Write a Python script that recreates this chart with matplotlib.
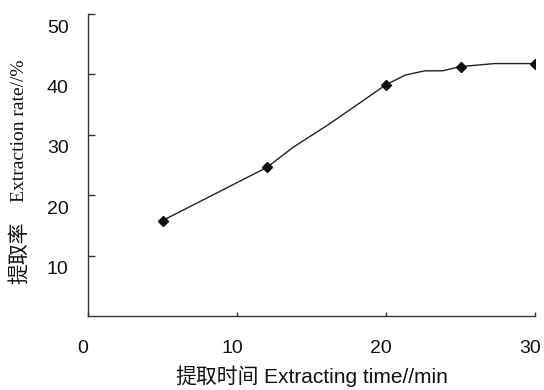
import matplotlib
matplotlib.use("Agg")
import matplotlib.pyplot as plt
import matplotlib.transforms as mtransforms

# measured points (markers)
time_pts = [5, 12, 20, 25, 30]
rate_pts = [15.8, 24.6, 38.3, 41.3, 41.8]

# smoothed curve through the points
curve_x = [5, 12, 13.8, 16.2, 20, 21.3, 22.6, 23.8, 25, 27.3, 30]
curve_y = [15.8, 24.6, 28.0, 31.8, 38.3, 39.9, 40.6, 40.6, 41.3, 41.8, 41.8]

x_ticks = [0, 10, 20, 30]
y_ticks = [10, 20, 30, 40, 50]

fig = plt.figure(figsize=(5.44, 3.9), dpi=100)
ax = fig.add_axes([0.1618, 0.1897, 0.8217, 0.7743])

ax.plot(curve_x, curve_y, color="#222222", lw=1.0)
ax.plot(time_pts, rate_pts, linestyle="none", marker="D", ms=5.5, color="#111111")

ax.set_xlim(0, 30)
ax.set_ylim(0, 50)
ax.set_xticks(x_ticks)
ax.set_yticks(y_ticks)
ax.spines["top"].set_visible(False)
ax.spines["right"].set_visible(False)
for s in ["left", "bottom"]:
    ax.spines[s].set_color("#333333")
    ax.spines[s].set_linewidth(1.0)

ax.tick_params(axis="y", direction="in", length=5, width=1, color="#333333", pad=14)
ax.tick_params(axis="x", direction="in", length=3, width=1, color="#333333", pad=17)
for lab in ax.get_xticklabels() + ax.get_yticklabels():
    lab.set_fontfamily("Liberation Sans")
    lab.set_fontsize(14)
    lab.set_color("#111111")

# y tick labels sit a little below their ticks, x tick labels a little left
off_y = mtransforms.ScaledTranslation(0, -12 / 100, fig.dpi_scale_trans)
for lab in ax.get_yticklabels():
    lab.set_transform(lab.get_transform() + off_y)
off_x = mtransforms.ScaledTranslation(-5 / 100, 0, fig.dpi_scale_trans)
for lab in ax.get_xticklabels():
    lab.set_transform(lab.get_transform() + off_x)

# y label: Chinese part and English part
fig.text(0.035, 0.351, "提取率", rotation=90, ha="center", va="center",
         fontsize=15, family="Noto Sans CJK SC", color="#111111")
fig.text(0.035, 0.665, "Extraction rate//%", rotation=90, ha="center", va="center",
         fontsize=14, family="Liberation Serif", color="#111111")

# x label: Chinese part and English part
fig.text(0.399, 0.033, "提取时间", ha="center", va="center",
         fontsize=15, family="Noto Sans CJK SC", color="#111111")
fig.text(0.655, 0.033, "Extracting time//min", ha="center", va="center",
         fontsize=15, family="Liberation Sans", color="#111111")

fig.savefig("out.png", dpi=100)
